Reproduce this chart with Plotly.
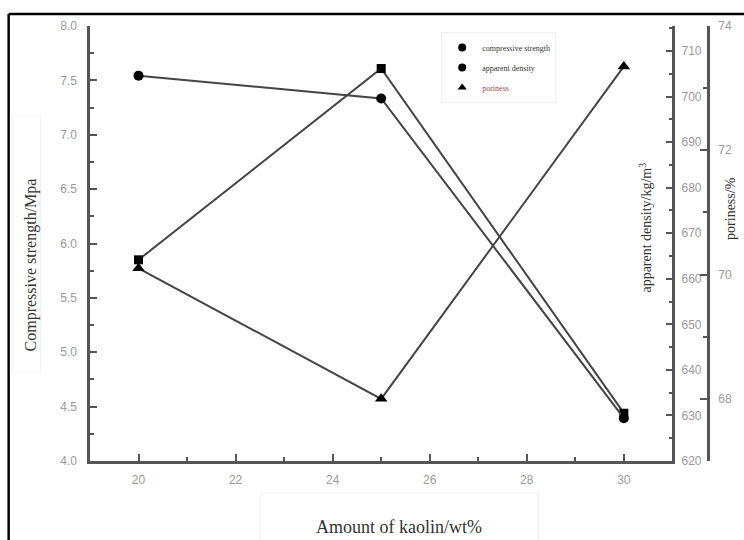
import plotly.graph_objects as go

kaolin = [20, 25, 30]
compressive_strength = [5.85, 7.61, 4.44]
apparent_density = [704.6, 699.6, 629.4]
poriness = [70.1, 68.0, 73.35]

legend_names = ["compressive strength", "apparent density", "poriness"]

W, H = 744, 540
ML, MR, MT, MB = 90, 20, 26, 79
PW = W - ML - MR
PH = H - MT - MB

def px(x):
    return (x - ML) / PW

def py(y):
    return (H - MB - y) / PH

serif = "Liberation Serif"
sans = "Liberation Sans"
line_col = "#444444"
axis_col = "#555555"
tick_font = dict(family=sans, size=12, color="#9a9a9a")

fig = go.Figure()

fig.add_trace(go.Scatter(
    x=kaolin, y=compressive_strength, mode="lines+markers",
    line=dict(color=line_col, width=2),
    marker=dict(symbol="square", size=9, color="black"),
    showlegend=False, yaxis="y"))
fig.add_trace(go.Scatter(
    x=kaolin, y=apparent_density, mode="lines+markers",
    line=dict(color=line_col, width=2),
    marker=dict(symbol="circle", size=10, color="black"),
    showlegend=False, yaxis="y2"))
fig.add_trace(go.Scatter(
    x=kaolin, y=poriness, mode="lines+markers",
    line=dict(color=line_col, width=2),
    marker=dict(symbol="triangle-up", size=11, color="black"),
    showlegend=False, yaxis="y3"))

# legend-only marker entries
leg_symbols = ["circle", "circle", "triangle-up"]
leg_labels = [legend_names[0], legend_names[1],
              '<span style="color:#a0404f">' + legend_names[2] + '</span>']
for i, (sym, lab) in enumerate(zip(leg_symbols, leg_labels)):
    fig.add_trace(go.Scatter(
        x=[None], y=[None], mode="markers", name=lab,
        marker=dict(symbol=sym, size=8, color="black"),
        legendgroup=str(i), showlegend=True))

common = dict(showline=True, linecolor=axis_col, linewidth=2.5, ticks="inside",
              tickcolor=axis_col, tickwidth=2, ticklen=7, showgrid=False,
              zeroline=False, tickfont=tick_font)

fig.update_layout(
    width=W, height=H,
    margin=dict(l=ML, r=MR, t=MT, b=MB),
    paper_bgcolor="white", plot_bgcolor="white",
    xaxis=dict(domain=[0, px(677)], range=[19, 31], dtick=2, tick0=20,
               minor=dict(ticks="inside", dtick=1, tick0=20, ticklen=4,
                          tickcolor=axis_col, tickwidth=2),
               ticklabelstandoff=6, **common),
    yaxis=dict(range=[4.0, 8.0], dtick=0.5, tickformat=".1f",
               minor=dict(ticks="inside", dtick=0.25, ticklen=4,
                          tickcolor=axis_col, tickwidth=2),
               ticklabelstandoff=8, **common),
    yaxis2=dict(range=[620, 715.5], dtick=10, tick0=620, overlaying="y",
                side="right", anchor="x",
                minor=dict(ticks="inside", dtick=5, ticklen=4,
                           tickcolor=axis_col, tickwidth=2),
                ticklabelstandoff=4, **common),
    yaxis3=dict(range=[67, 74], dtick=2, tick0=68, overlaying="y",
                side="right", anchor="free", position=px(713),
                minor=dict(ticks="inside", dtick=1, ticklen=4,
                           tickcolor=axis_col, tickwidth=2),
                ticklabelstandoff=6, **common),
    legend=dict(x=px(444), y=py(32), xanchor="left", yanchor="top",
                font=dict(family=serif, size=8, color="#333333"),
                bgcolor="rgba(0,0,0,0)", bordercolor="#eeeeee", borderwidth=1,
                tracegroupgap=1, itemwidth=30),
    showlegend=True,
)

annotations = [
    dict(text="Compressive strength/Mpa", x=px(31), y=py(265), textangle=-90,
         font=dict(family=serif, size=16, color="#333333")),
    dict(text="Amount of kaolin/wt%", x=px(401), y=py(527),
         font=dict(family=serif, size=18, color="#333333")),
    dict(text="apparent density/kg/m<sup>3</sup>", x=px(650), y=py(228), textangle=-90,
         font=dict(family=serif, size=14, color="#333333")),
    dict(text="poriness/%", x=px(735), y=py(208), textangle=-90,
         font=dict(family=serif, size=14, color="#333333")),
]
for a in annotations:
    a.update(xref="paper", yref="paper", showarrow=False,
             xanchor="center", yanchor="middle")
fig.update_layout(annotations=annotations)

# outer frame (top and left edges of the scanned figure border)
fig.add_shape(type="line", xref="paper", yref="paper",
              x0=px(8), y0=py(14), x1=px(760), y1=py(14),
              line=dict(color="black", width=2.5))
fig.add_shape(type="line", xref="paper", yref="paper",
              x0=px(8), y0=py(14), x1=px(8), y1=py(560),
              line=dict(color="black", width=2.5))
# faint title boxes
fig.add_shape(type="rect", xref="paper", yref="paper",
              x0=px(262), y0=py(493), x1=px(542), y1=py(545),
              line=dict(color="#eeeeee", width=1))
fig.add_shape(type="rect", xref="paper", yref="paper",
              x0=px(12), y0=py(116), x1=px(40), y1=py(372),
              line=dict(color="#f0f0f0", width=1))

fig.write_html("out.html",
               config={"displayModeBar": False},
               post_script="document.body.style.margin='0';document.body.style.overflow='hidden';")
